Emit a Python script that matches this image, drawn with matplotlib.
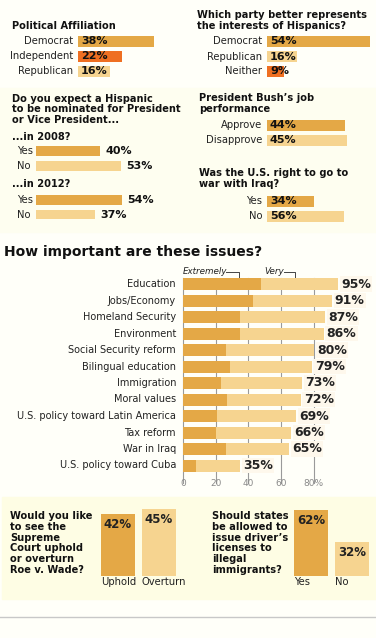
import matplotlib
matplotlib.use("Agg")
import matplotlib.pyplot as plt
from matplotlib.patches import Rectangle

W, H = 376, 638
DARK = "#E4A846"
LIGHT = "#F6D490"
RED = "#EF6F22"
INK = "#111111"

# ---- data ----
party_labels = ["Democrat", "Independent", "Republican"]
party_values = [38, 22, 16]

hisp_labels = ["Democrat", "Republican", "Neither"]
hisp_values = [54, 16, 9]

yn_labels = ["Yes", "No"]
nominee_2008 = [40, 53]
nominee_2012 = [54, 37]

bush_labels = ["Approve", "Disapprove"]
bush_values = [44, 45]

iraq_values = [34, 56]

issues = ["Education", "Jobs/Economy", "Homeland Security", "Environment",
          "Social Security reform", "Bilingual education", "Immigration",
          "Moral values", "U.S. policy toward Latin America", "Tax reform",
          "War in Iraq", "U.S. policy toward Cuba"]
extremely = [48, 43, 35, 35, 26, 29, 23, 27, 21, 20, 26, 8]
total = [95, 91, 87, 86, 80, 79, 73, 72, 69, 66, 65, 35]
issue_ticks = [0, 20, 40, 60, 80]
issue_tick_labels = ["0", "20", "40", "60", "80%"]

roe_labels = ["Uphold", "Overturn"]
roe_values = [42, 45]

license_labels = ["Yes", "No"]
license_values = [62, 32]

fig = plt.figure(figsize=(W / 100, H / 100), dpi=100, facecolor="#FFFFF9")
base = fig.add_axes([0, 0, 1, 1])
base.set_xlim(0, W)
base.set_ylim(H, 0)
base.axis("off")

base.add_patch(Rectangle((0, 88), W, 144, color="#FEFEF0", zorder=0))
base.add_patch(Rectangle((2, 497), W - 2, 102, color="#FEFDE4", zorder=0))
base.plot([0, W], [617, 617], color="#C8C8C8", lw=1)


def px_axes(x0, y0, x1, y1):
    ax = fig.add_axes([x0 / W, 1 - y1 / H, (x1 - x0) / W, (y1 - y0) / H])
    ax.axis("off")
    ax.patch.set_alpha(0)
    return ax


def title(x, y0, lines, step=11, size=7.1):
    for i, t in enumerate(lines):
        base.text(x, y0 + i * step, t, fontsize=size, fontweight="bold",
                  color=INK, va="center", ha="left")


def hbars(left, scale, first, step, labels, values, colors, inside=True,
          label_dx=-5, label_ha="right", bar_h=11):
    n = len(values)
    top = first - step / 2
    span = 60
    ax = px_axes(left, top, left + span * scale, top + n * step)
    ax.set_xlim(0, span)
    ax.set_ylim(n - 0.5, -0.5)
    ax.barh(range(n), values, height=bar_h / step, color=colors, clip_on=False)
    for i, (lab, v) in enumerate(zip(labels, values)):
        ax.annotate(lab, (0, i), xytext=(label_dx, 0), textcoords="offset pixels",
                    ha=label_ha, va="center", fontsize=7.2, color="#222222")
        if inside:
            ax.annotate(f"{v}%", (0, i), xytext=(3, 0), textcoords="offset pixels",
                        ha="left", va="center", fontsize=8, fontweight="bold", color=INK)
        else:
            ax.annotate(f"{v}%", (v, i), xytext=(5, 0), textcoords="offset pixels",
                        ha="left", va="center", fontsize=8, fontweight="bold", color=INK)
    return ax


# ---- top blocks ----
title(12, 26, ["Political Affiliation"])
hbars(78, 2.0, 41, 15, party_labels, party_values, [DARK, RED, LIGHT])

title(197, 15, ["Which party better represents", "the interests of Hispanics?"])
hbars(267, 1.9, 41.5, 15, hisp_labels, hisp_values, [DARK, LIGHT, RED])

title(12, 99, ["Do you expect a Hispanic", "to be nominated for President",
               "or Vice President..."], step=10.5)
title(12, 137, ["...in 2008?"])
hbars(36, 1.6, 151, 15, yn_labels, nominee_2008, [DARK, LIGHT], inside=False,
      label_dx=-19, label_ha="left", bar_h=10)
title(12, 184, ["...in 2012?"])
hbars(36, 1.6, 200, 14.5, yn_labels, nominee_2012, [DARK, LIGHT], inside=False,
      label_dx=-19, label_ha="left", bar_h=10)

title(199, 98, ["President Bush\u2019s job", "performance"])
hbars(267, 1.77, 125, 15, bush_labels, bush_values, [DARK, LIGHT])

title(199, 173, ["Was the U.S. right to go to", "war with Iraq?"])
hbars(267, 1.38, 201, 15, yn_labels, iraq_values, [DARK, LIGHT])

# ---- issues ----
base.text(4, 252, "How important are these issues?", fontsize=10, fontweight="bold",
          color=INK, va="center")
scale = 1.635
step = 16.5
n = len(issues)
top = 284 - step / 2
ax = px_axes(183, top, 183 + 100 * scale, top + n * step)
ax.set_xlim(0, 100)
ax.set_ylim(n - 0.5, -0.5)
for t, tl in zip(issue_ticks, issue_tick_labels):
    ax.plot([t, t], [-0.35, n - 0.5 + 0.55], color="#9A9A9A", lw=0.8, zorder=1,
            clip_on=False)
    ax.annotate(tl, (t, n - 0.5), xytext=(0, -10),
                textcoords="offset pixels", ha="center", va="center",
                fontsize=6.5, color="#8A8A8A")
very = [t - e for t, e in zip(total, extremely)]
ax.barh(range(n), extremely, height=12 / step, color=DARK, zorder=2)
ax.barh(range(n), very, left=extremely, height=12 / step, color=LIGHT, zorder=2)
for i, (lab, v) in enumerate(zip(issues, total)):
    ax.annotate(lab, (0, i), xytext=(-7, 0), textcoords="offset pixels",
                ha="right", va="center", fontsize=7.0, color="#222222")
    ax.annotate(f"{v}%", (v, i), xytext=(3, 0), textcoords="offset pixels",
                ha="left", va="center", fontsize=9, fontweight="bold", color="#222222",
                bbox=dict(boxstyle="square,pad=0.1", fc="#FEF8EC", ec="none"), zorder=3)

# Extremely / Very leaders
base.text(183, 272, "Extremely", fontsize=6.3, style="italic", color="#222222",
          va="center", ha="left")
base.plot([226, 239, 239], [272, 272, 283], color="#444444", lw=0.7)
base.plot([239], [283], "o", ms=1.5, color="#444444")
base.text(264, 272, "Very", fontsize=6.3, style="italic", color="#222222",
          va="center", ha="left")
base.plot([284, 295, 295], [272, 272, 283], color="#444444", lw=0.7)
base.plot([295], [283], "o", ms=1.5, color="#444444")


# ---- bottom vertical bars ----
def vbars(center0, gap, bottom, scale, ymax, labels, values):
    ax = px_axes(center0 - gap / 2, bottom - ymax * scale, center0 + 1.5 * gap, bottom)
    ax.set_xlim(-0.5, 1.5)
    ax.set_ylim(0, ymax)
    w = 34 / gap
    ax.bar([0, 1], values, width=w, color=[DARK, LIGHT])
    for i, (lab, v) in enumerate(zip(labels, values)):
        ax.annotate(f"{v}%", (i, v), xytext=(0, -4), textcoords="offset pixels",
                    ha="center", va="top", fontsize=8.5, fontweight="bold", color="#222222")
        ax.annotate(lab, (i - w / 2, 0), xytext=(0, -6), textcoords="offset pixels",
                    ha="left", va="center", fontsize=7.2, color="#222222")


title(10, 516, ["Would you like", "to see the", "Supreme", "Court uphold",
                "or overturn", "Roe v. Wade?"], step=10.8)
vbars(118, 41, 576, 1.48, 50, roe_labels, roe_values)

title(212, 516, ["Should states", "be allowed to", "issue driver\u2019s",
                 "licenses to", "illegal", "immigrants?"], step=10.8)
vbars(311, 41, 576, 1.07, 70, license_labels, license_values)

fig.savefig("out.png", dpi=100, facecolor=fig.get_facecolor())
